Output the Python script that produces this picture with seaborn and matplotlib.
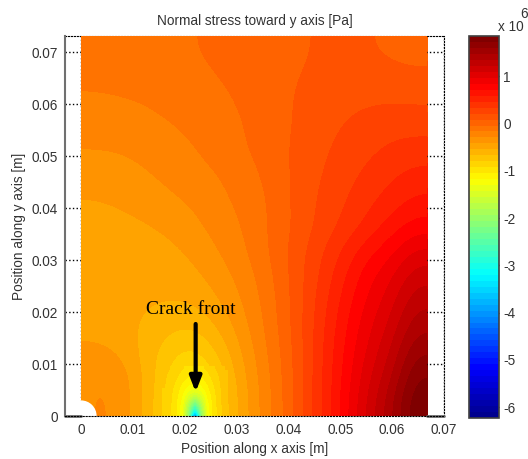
import numpy as np
import pandas as pd
import seaborn as sns
import matplotlib.pyplot as plt
from matplotlib.colors import LinearSegmentedColormap
from matplotlib.patches import Circle

# Stress field, in 1e6 Pa (rows run from the top of the plate down)
stress_main = [
    [-.11, -.10, -.09, -.07, -.05, -.02, .00, .03, .06, .09, .10, .09, .07, .05],
    [-.13, -.12, -.11, -.09, -.07, -.04, -.01, .03, .07, .10, .11, .11, .10, .09],
    [-.19, -.18, -.165, -.14, -.11, -.07, -.03, .02, .08, .13, .17, .19, .20, .19],
    [-.23, -.22, -.20, -.175, -.14, -.09, -.05, .01, .08, .15, .205, .25, .28, .28],
    [-.30, -.295, -.27, -.23, -.18, -.12, -.06, .01, .09, .17, .24, .30, .36, .40],
    [-.36, -.34, -.31, -.27, -.22, -.175, -.11, -.02, .09, .19, .27, .36, .44, .50],
    [-.43, -.41, -.37, -.32, -.28, -.205, -.14, -.05, .09, .21, .31, .42, .51, .62],
    [-.47, -.46, -.44, -.40, -.33, -.25, -.17, -.05, .08, .22, .35, .48, .64, .77],
    [-.47, -.47, -.47, -.46, -.40, -.30, -.20, -.06, .11, .28, .46, .66, .80, 1.00],
    [-.48, -.49, -.50, -.50, -.46, -.37, -.25, -.10, .10, .31, .54, .78, .94, 1.18],
    [-.50, -.51, -.53, -.55, -.54, -.44, -.30, -.13, .09, .34, .60, .85, 1.03, 1.32],
    [-.47, -.50, -.56, -.64, -.68, -.55, -.35, -.15, .08, .36, .65, .91, 1.12, 1.45],
    [-.38, -.42, -.58, -.75, -.85, -.68, -.42, -.18, .06, .37, .68, .97, 1.21, 1.60],
    [-.30, -.30, -.55, -.80, -1.06, -.80, -.47, -.21, .05, .38, .70, 1.03, 1.31, 1.75],
    [-.30, -.28, -.56, -.82, -1.6, -.82, -.50, -.22, .04, .38, .72, 1.09, 1.42, 1.85],
]

# Finer readings around the crack front
stress_tip = [
    [-.76, -.81, -.86, -.92, -.96, -.98, -.96, -.90, -.83, -.76, -.67],
    [-.78, -.84, -.90, -.98, -1.04, -1.06, -1.04, -.96, -.87, -.79, -.69],
    [-.79, -.86, -.94, -1.04, -1.11, -1.14, -1.11, -1.02, -.91, -.81, -.70],
    [-.80, -.88, -.98, -1.10, -1.20, -1.24, -1.20, -1.08, -.95, -.83, -.71],
    [-.81, -.90, -1.01, -1.16, -1.34, -1.46, -1.34, -1.14, -.98, -.84, -.72],
    [-.82, -.91, -1.04, -1.22, -1.55, -1.85, -1.55, -1.20, -1.00, -.85, -.72],
    [-.82, -.92, -1.05, -1.27, -1.80, -2.40, -1.80, -1.25, -1.02, -.86, -.72],
    [-.82, -.92, -1.06, -1.30, -2.00, -3.00, -2.00, -1.28, -1.03, -.86, -.72],
    [-.82, -.92, -1.06, -1.32, -2.10, -4.20, -2.10, -1.30, -1.03, -.86, -.72],
]

x_ticks = [0, 0.01, 0.02, 0.03, 0.04, 0.05, 0.06, 0.07]
y_ticks = [0, 0.01, 0.02, 0.03, 0.04, 0.05, 0.06, 0.07]
x_tick_labels = ['0', '0.01', '0.02', '0.03', '0.04', '0.05', '0.06', '0.07']
y_tick_labels = ['0', '0.01', '0.02', '0.03', '0.04', '0.05', '0.06', '0.07']
cbar_ticks = [-6, -5, -4, -3, -2, -1, 0, 1]

sns.set_style('white')
plt.rcParams['font.family'] = ['Liberation Sans', 'DejaVu Sans']

W, H = 528, 459
VMIN, VMAX = -6.23, 1.85
plate_w, plate_h = 0.0667, 0.0731
text_col = '#333333'

# MATLAB flavour of jet, 64 levels (matplotlib's own jet has its anchors elsewhere)
cmap = LinearSegmentedColormap.from_list('matlab_jet', [
    (0, (0, 0, 0.5625)), (0.125, (0, 0, 1)), (0.375, (0, 1, 1)),
    (0.625, (1, 1, 0)), (0.875, (1, 0, 0)), (1, (0.5, 0, 0))], N=64)

def rect(left, top, right, bottom):
    return [left / W, 1 - bottom / H, (right - left) / W, (bottom - top) / H]

fig = plt.figure(figsize=(W / 100, H / 100), dpi=100)

# seaborn heatmap gives the base field and the colorbar
ax_field = fig.add_axes(rect(81, 36, 428, 416))
cax = fig.add_axes(rect(469, 36, 499, 418))
sns.heatmap(pd.DataFrame(stress_main), ax=ax_field, cbar_ax=cax, cmap=cmap, vmin=VMIN, vmax=VMAX,
            xticklabels=False, yticklabels=False)
ax_field.set_axis_off()

# Axes in metres on top of it, the field is smoothed for the display
ax = fig.add_axes(rect(65, 36, 444, 416))
ax.patch.set_alpha(0)
ax.imshow(np.array(stress_main), extent=(0, plate_w, 0, plate_h), cmap=cmap, vmin=VMIN, vmax=VMAX,
          interpolation='bicubic', aspect='auto', zorder=1)
ax.imshow(np.array(stress_tip), extent=(0.0156, 0.0283, -0.00077, 0.0096), cmap=cmap, vmin=VMIN, vmax=VMAX,
          interpolation='bilinear', aspect='auto', zorder=1.1)
ax.set_xlim(-0.0031, 0.07)
ax.set_ylim(0, plate_h)

# Hole at the origin
ax.add_patch(Circle((0, 0), 0.003, facecolor='white', edgecolor='none', zorder=1.2))

ax.set_axisbelow(True)
ax.grid(True, color='black', linestyle=':', linewidth=1)
ax.set_xticks(x_ticks)
ax.set_xticklabels(x_tick_labels)
ax.set_yticks(y_ticks)
ax.set_yticklabels(y_tick_labels)
ax.tick_params(axis='both', labelsize=9.8, colors=text_col, length=3, width=1, direction='in', pad=5)
for side in ['top', 'right']:
    ax.spines[side].set_linestyle(':')
    ax.spines[side].set_color('black')
ax.spines['top'].set_zorder(0.5)
ax.spines['left'].set_color('#707070')
ax.spines['left'].set_linewidth(1.5)
ax.spines['bottom'].set_linestyle(':')
ax.spines['bottom'].set_color('black')
ax.spines['bottom'].set_zorder(5)
ax.plot([-0.0031, 0], [0, 0], color='#707070', lw=2, clip_on=False, zorder=4)
ax.plot([plate_w, 0.07], [0, 0], color='#707070', lw=2, clip_on=False, zorder=4)

ax.set_title('Normal stress toward y axis [Pa]', fontsize=9.8, color=text_col, pad=8)
ax.set_xlabel('Position along x axis [m]', fontsize=9.8, color=text_col, labelpad=4)
ax.set_ylabel('Position along y axis [m]', fontsize=9.8, color=text_col, labelpad=4)

ax.text(0.0212, 0.0204, 'Crack front', family='Liberation Serif', fontsize=14,
        ha='center', va='center', color='black', zorder=6)
ax.annotate('', xy=(0.0221, 0.0046), xytext=(0.0221, 0.0177), zorder=6,
            arrowprops=dict(arrowstyle='-|>,head_width=0.35,head_length=0.9', color='black', lw=3,
                            shrinkA=0, shrinkB=0))

cbar = ax_field.collections[0].colorbar
cbar.set_ticks(cbar_ticks)
cbar.set_ticklabels([str(t) for t in cbar_ticks])
cbar.outline.set_visible(True)
cbar.outline.set_edgecolor('#404040')
cbar.outline.set_linewidth(1.2)
cax.tick_params(labelsize=9.8, colors=text_col, length=3, width=1, direction='in', right=True, left=True, pad=3)

fig.text(498 / W, 1 - 27 / H, 'x 10', fontsize=9.8, color=text_col, va='center', ha='left')
fig.text(520 / W, 1 - 14 / H, '6', fontsize=9.8, color=text_col, va='center', ha='left')

fig.savefig('out.png', dpi=100)
